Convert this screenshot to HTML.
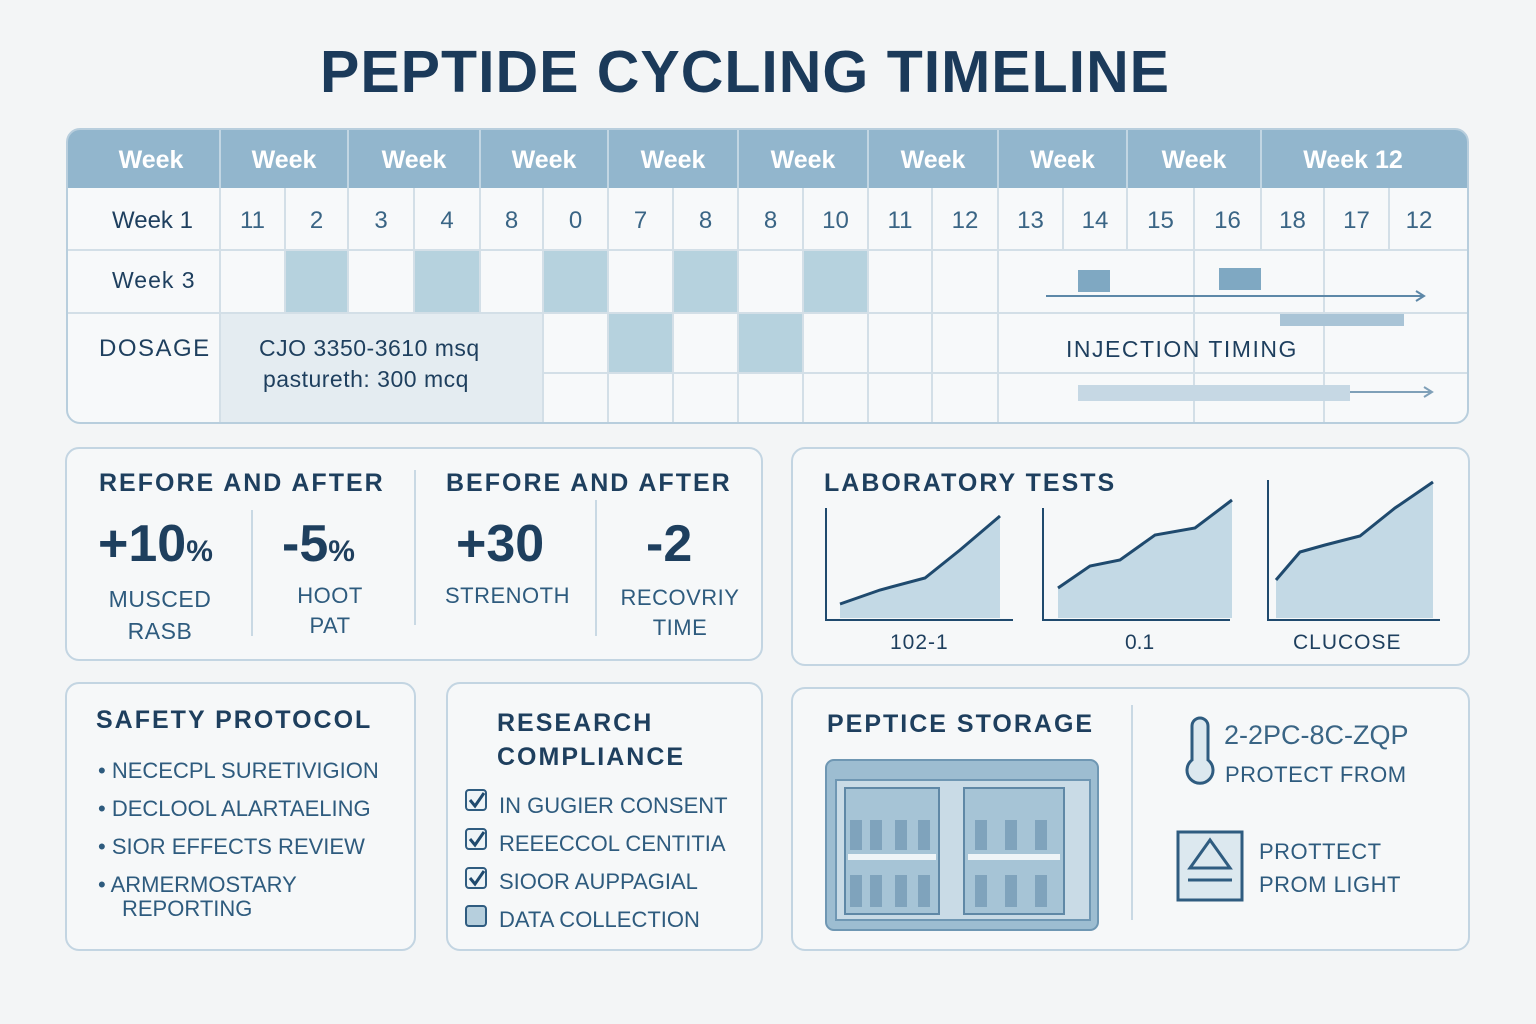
<!DOCTYPE html>
<html><head><meta charset="utf-8"><style>
body{margin:0;width:1536px;height:1024px;background:#f3f5f6;font-family:"Liberation Sans",sans-serif;position:relative;overflow:hidden;color:#1e3f5e}
.a{position:absolute}
.box{position:absolute;border:2px solid #c3d5e2;border-radius:14px;background:#f6f8f9;box-sizing:border-box}
.h{font-weight:bold;letter-spacing:2px;font-size:25px;color:#1e3f5e}
.t{font-size:22px;color:#2e5b7e;letter-spacing:0.5px}
.c{text-align:center}
</style></head><body>
<div class="a c" style="left:0;width:1490px;top:38px;font-size:59px;font-weight:bold;letter-spacing:1px;color:#1b3a5a">PEPTIDE CYCLING TIMELINE</div>

<svg class="a" style="left:0;top:0" width="1536" height="1024">
<defs><clipPath id="cp"><rect x="67" y="129" width="1401" height="294" rx="13"/></clipPath></defs>
<g clip-path="url(#cp)">
<rect x="67" y="129" width="1401" height="294" fill="#f7f9fa"/>
<rect x="67" y="129" width="1401" height="59" fill="#92b6cd"/>
<rect x="221" y="313" width="322" height="110" fill="#e4ecf1"/>
<g fill="#b6d2de">
<rect x="286" y="251" width="62" height="62"/><rect x="415" y="251" width="65" height="62"/><rect x="544" y="251" width="64" height="62"/><rect x="674" y="251" width="64" height="62"/><rect x="804" y="251" width="64" height="62"/>
<rect x="609" y="314" width="64" height="59"/><rect x="739" y="314" width="64" height="59"/>
</g>
<g stroke="#d3dfe7" stroke-width="2">
<line x1="67" y1="250" x2="1468" y2="250"/><line x1="67" y1="313" x2="1468" y2="313"/><line x1="543" y1="373" x2="1468" y2="373"/>
<line x1="220" y1="188" x2="220" y2="424"/>
<line x1="285" y1="188" x2="285" y2="313"/><line x1="348" y1="188" x2="348" y2="313"/><line x1="414" y1="188" x2="414" y2="313"/><line x1="480" y1="188" x2="480" y2="313"/><line x1="543" y1="188" x2="543" y2="424"/>
<line x1="608" y1="188" x2="608" y2="424"/><line x1="673" y1="188" x2="673" y2="424"/><line x1="738" y1="188" x2="738" y2="424"/><line x1="803" y1="188" x2="803" y2="424"/><line x1="868" y1="188" x2="868" y2="424"/><line x1="932" y1="188" x2="932" y2="424"/><line x1="998" y1="188" x2="998" y2="424"/><line x1="1063" y1="188" x2="1063" y2="250"/><line x1="1127" y1="188" x2="1127" y2="250"/><line x1="1194" y1="188" x2="1194" y2="424"/><line x1="1261" y1="188" x2="1261" y2="250"/><line x1="1324" y1="188" x2="1324" y2="424"/><line x1="1389" y1="188" x2="1389" y2="250"/>
</g>
<g stroke="#c2d6e3" stroke-width="2"><line x1="220" y1="129" x2="220" y2="188"/><line x1="348" y1="129" x2="348" y2="188"/><line x1="480" y1="129" x2="480" y2="188"/><line x1="608" y1="129" x2="608" y2="188"/><line x1="738" y1="129" x2="738" y2="188"/><line x1="868" y1="129" x2="868" y2="188"/><line x1="998" y1="129" x2="998" y2="188"/><line x1="1127" y1="129" x2="1127" y2="188"/><line x1="1261" y1="129" x2="1261" y2="188"/></g>
<rect x="1078" y="270" width="32" height="22" fill="#7fa8c2"/><rect x="1219" y="268" width="42" height="22" fill="#7fa8c2"/>
<line x1="1046" y1="296" x2="1424" y2="296" stroke="#5d88a8" stroke-width="2"/><path d="M1416 291l8 5-8 5" fill="none" stroke="#5d88a8" stroke-width="2"/>
<rect x="1280" y="314" width="124" height="12" fill="#a9c4d6"/>
<rect x="1078" y="385" width="272" height="16" fill="#c6d8e4"/>
<line x1="1350" y1="392" x2="1432" y2="392" stroke="#7fa0b8" stroke-width="2"/><path d="M1424 387l8 5-8 5" fill="none" stroke="#7fa0b8" stroke-width="2"/>
</g>
<rect x="67" y="129" width="1401" height="294" rx="13" fill="none" stroke="#b8cedd" stroke-width="2"/>
</svg>

<div class="a" style="top:146px;left:0;width:1536px;font-size:25px;font-weight:bold;color:#fff">
<span class="a c" style="left:66px;width:170px">Week</span><span class="a c" style="left:220px;width:128px">Week</span><span class="a c" style="left:348px;width:132px">Week</span><span class="a c" style="left:480px;width:128px">Week</span><span class="a c" style="left:608px;width:130px">Week</span><span class="a c" style="left:738px;width:130px">Week</span><span class="a c" style="left:868px;width:130px">Week</span><span class="a c" style="left:998px;width:129px">Week</span><span class="a c" style="left:1127px;width:134px">Week</span><span class="a c" style="left:1261px;width:184px">Week 12</span></div>
<div class="a" style="top:207px;left:0;width:1536px;font-size:24px;color:#3a6585">
<span class="a" style="left:112px;color:#1e3f5e">Week 1</span>
<span class="a c" style="left:220px;width:65px">11</span><span class="a c" style="left:285px;width:63px">2</span><span class="a c" style="left:348px;width:66px">3</span><span class="a c" style="left:414px;width:66px">4</span><span class="a c" style="left:480px;width:63px">8</span><span class="a c" style="left:543px;width:65px">0</span><span class="a c" style="left:608px;width:65px">7</span><span class="a c" style="left:673px;width:65px">8</span><span class="a c" style="left:738px;width:65px">8</span><span class="a c" style="left:803px;width:65px">10</span><span class="a c" style="left:868px;width:64px">11</span><span class="a c" style="left:932px;width:66px">12</span><span class="a c" style="left:998px;width:65px">13</span><span class="a c" style="left:1063px;width:64px">14</span><span class="a c" style="left:1127px;width:67px">15</span><span class="a c" style="left:1194px;width:67px">16</span><span class="a c" style="left:1261px;width:63px">18</span><span class="a c" style="left:1324px;width:65px">17</span><span class="a c" style="left:1389px;width:60px">12</span></div>
<div class="a" style="left:112px;top:267px;font-size:23px;letter-spacing:1px">Week 3</div>
<div class="a" style="left:99px;top:335px;font-size:24px;letter-spacing:1.5px">DOSAGE</div>
<div class="a t" style="left:259px;top:335px;font-size:23px;color:#1e3f5e">CJO 3350-3610 msq</div>
<div class="a t" style="left:263px;top:366px;font-size:23px;color:#1e3f5e">pastureth: 300 mcq</div>
<div class="a" style="left:1066px;top:336px;font-size:23px;letter-spacing:1.5px">INJECTION TIMING</div>

<div class="box" style="left:65px;top:447px;width:698px;height:214px"></div>
<div class="box" style="left:791px;top:447px;width:679px;height:219px"></div>
<div class="box" style="left:65px;top:682px;width:351px;height:269px"></div>
<div class="box" style="left:446px;top:682px;width:317px;height:269px"></div>
<div class="box" style="left:791px;top:687px;width:679px;height:264px"></div>

<svg class="a" style="left:0;top:0" width="1536" height="1024">
<g stroke="#c9d9e4" stroke-width="2"><line x1="252" y1="510" x2="252" y2="636"/><line x1="415" y1="470" x2="415" y2="625"/><line x1="596" y1="500" x2="596" y2="636"/><line x1="1132" y1="705" x2="1132" y2="920"/></g>
<g fill="#c3d9e5" stroke="#1f4a6e" stroke-width="3">
<path d="M840 604 L880 590 L925 578 L960 550 L1000 516 L1000 618 L840 618Z" stroke="none"/>
<path d="M840 604 L880 590 L925 578 L960 550 L1000 516" fill="none"/>
<path d="M1058 588 L1090 566 L1120 560 L1155 535 L1195 528 L1232 500 L1232 618 L1058 618Z" stroke="none"/>
<path d="M1058 588 L1090 566 L1120 560 L1155 535 L1195 528 L1232 500" fill="none"/>
<path d="M1276 580 L1300 552 L1325 545 L1360 536 L1395 508 L1433 482 L1433 618 L1276 618Z" stroke="none"/>
<path d="M1276 580 L1300 552 L1325 545 L1360 536 L1395 508 L1433 482" fill="none"/>
</g>
<g stroke="#1f4a6e" stroke-width="2" fill="none"><path d="M826 508V620H1013"/><path d="M1043 508V620H1230"/><path d="M1268 480V620H1440"/></g>
<rect x="826" y="760" width="272" height="170" rx="8" fill="#9dbdd1" stroke="#6f97b3" stroke-width="2"/>
<rect x="836" y="780" width="254" height="140" fill="#c9dbe6" stroke="#6f97b3" stroke-width="2"/>
<rect x="845" y="788" width="94" height="126" fill="#a6c4d6" stroke="#5f88a6" stroke-width="2"/>
<rect x="964" y="788" width="100" height="126" fill="#a6c4d6" stroke="#5f88a6" stroke-width="2"/>
<g fill="#7fa3bc"><rect x="850" y="820" width="12" height="30"/><rect x="870" y="820" width="12" height="30"/><rect x="895" y="820" width="12" height="30"/><rect x="918" y="820" width="12" height="30"/><rect x="975" y="820" width="12" height="30"/><rect x="1005" y="820" width="12" height="30"/><rect x="1035" y="820" width="12" height="30"/>
<rect x="850" y="875" width="12" height="32"/><rect x="870" y="875" width="12" height="32"/><rect x="895" y="875" width="12" height="32"/><rect x="918" y="875" width="12" height="32"/><rect x="975" y="875" width="12" height="32"/><rect x="1005" y="875" width="12" height="32"/><rect x="1035" y="875" width="12" height="32"/></g>
<line x1="848" y1="857" x2="936" y2="857" stroke="#eef4f7" stroke-width="6"/><line x1="968" y1="857" x2="1060" y2="857" stroke="#eef4f7" stroke-width="6"/>
<path d="M1192 726a8 8 0 0 1 16 0v34a13 13 0 1 1 -16 0z" fill="#dce8ef" stroke="#2f5c80" stroke-width="3"/>
<rect x="1178" y="832" width="64" height="68" fill="#dce8ef" stroke="#2f5c80" stroke-width="3"/>
<path d="M1190 868 L1210 840 L1230 868Z" fill="none" stroke="#2f5c80" stroke-width="3"/>
<line x1="1188" y1="880" x2="1232" y2="880" stroke="#2f5c80" stroke-width="3"/>
<g fill="#eef4f7" stroke="#2f5c80" stroke-width="2"><rect x="466" y="790" width="20" height="20" rx="3"/><rect x="466" y="829" width="20" height="20" rx="3"/><rect x="466" y="868" width="20" height="20" rx="3"/><rect x="466" y="906" width="20" height="20" rx="3" fill="#b6cfdd"/></g>
<g fill="none" stroke="#1f4a6e" stroke-width="3"><path d="M470 800l5 6 9-13"/><path d="M470 839l5 6 9-13"/><path d="M470 878l5 6 9-13"/></g>
</svg>

<div class="a h" style="left:99px;top:469px">REFORE AND AFTER</div>
<div class="a h" style="left:446px;top:469px">BEFORE AND AFTER</div>
<div class="a h" style="left:824px;top:469px">LABORATORY TESTS</div>
<div class="a" style="left:98px;top:514px;font-size:52px;font-weight:bold">+10<span style="font-size:30px">%</span></div>
<div class="a" style="left:282px;top:514px;font-size:52px;font-weight:bold">-5<span style="font-size:30px">%</span></div>
<div class="a" style="left:456px;top:514px;font-size:52px;font-weight:bold">+30</div>
<div class="a" style="left:646px;top:514px;font-size:52px;font-weight:bold">-2</div>
<div class="a t c" style="left:90px;width:140px;top:583px;line-height:32px;font-size:23px">MUSCED<br>RASB</div>
<div class="a t c" style="left:265px;width:130px;top:581px;line-height:30px">HOOT<br>PAT</div>
<div class="a t c" style="left:430px;width:155px;top:583px">STRENOTH</div>
<div class="a t c" style="left:605px;width:150px;top:583px;line-height:30px">RECOVRIY<br>TIME</div>
<div class="a" style="left:890px;top:631px;font-size:21px;letter-spacing:1px">102-1</div>
<div class="a" style="left:1125px;top:631px;font-size:21px">0.1</div>
<div class="a" style="left:1293px;top:631px;font-size:21px;letter-spacing:1px">CLUCOSE</div>

<div class="a h" style="left:96px;top:706px">SAFETY PROTOCOL</div>
<div class="a t" style="left:98px;top:752px;line-height:38px;letter-spacing:0">• NECECPL SURETIVIGION<br>• DECLOOL ALARTAELING<br>• SIOR EFFECTS REVIEW<br>• ARMERMOSTARY</div>
<div class="a t" style="left:122px;top:896px;letter-spacing:0">REPORTING</div>
<div class="a h" style="left:497px;top:706px;line-height:34px">RESEARCH<br>COMPLIANCE</div>
<div class="a t" style="left:499px;top:787px;line-height:38px;letter-spacing:0">IN GUGIER CONSENT<br>REEECCOL CENTITIA<br>SIOOR AUPPAGIAL<br>DATA COLLECTION</div>
<div class="a h" style="left:827px;top:710px">PEPTICE STORAGE</div>
<div class="a" style="left:1224px;top:720px;font-size:27px;color:#3a6585">2-2PC-8C-ZQP</div>
<div class="a t" style="left:1225px;top:762px">PROTECT FROM</div>
<div class="a t" style="left:1259px;top:835px;line-height:33px">PROTTECT<br>PROM LIGHT</div>
</body></html>
